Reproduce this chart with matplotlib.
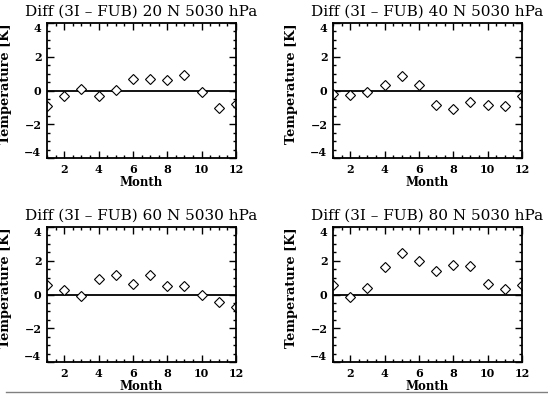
import matplotlib
matplotlib.use("Agg")
import matplotlib.pyplot as plt
from matplotlib.ticker import MultipleLocator

# monthly differences (3I - FUB) at 5030 hPa
months = [1, 2, 3, 4, 5, 6, 7, 8, 9, 10, 11, 12]
lat_labels = ["20 N", "40 N", "60 N", "80 N"]
diff_20n = [-0.90, -0.30, 0.08, -0.30, 0.02, 0.69, 0.69, 0.60, 0.90, -0.06, -1.06, -0.82]
diff_40n = [-0.20, -0.25, -0.06, 0.35, 0.84, 0.31, -0.88, -1.12, -0.70, -0.86, -0.90, -0.31]
diff_60n = [0.59, 0.29, -0.11, 0.91, 1.18, 0.63, 1.14, 0.50, 0.51, -0.04, -0.42, -0.74]
diff_80n = [0.54, -0.15, 0.37, 1.62, 2.44, 2.00, 1.40, 1.73, 1.67, 0.62, 0.33, 0.54]
all_diffs = [diff_20n, diff_40n, diff_60n, diff_80n]
yticks = [-4, -2, 0, 2, 4]
xticks = [2, 4, 6, 8, 10, 12]

plt.rcParams['font.family'] = ['DejaVu Serif']

fig = plt.figure(figsize=(5.48, 4.01), dpi=100)

# axes boxes in pixels: left, top
boxes = [(47, 23), (333, 23), (47, 227), (333, 227)]
W, H = 548.0, 401.0
aw, ah = 189, 135

for (px, py), lab, vals in zip(boxes, lat_labels, all_diffs):
    ax = fig.add_axes([px / W, 1 - (py + ah) / H, aw / W, ah / H])
    ax.plot(months, vals, linestyle='none', marker='D', markersize=4.6,
            markerfacecolor='white', markeredgecolor='black', markeredgewidth=0.8)
    ax.axhline(0, color='black', lw=1.3, zorder=1)
    ax.set_xlim(1, 12)
    ax.set_ylim(-4, 4)
    ax.set_xticks(xticks)
    ax.set_yticks(yticks)
    ax.xaxis.set_minor_locator(MultipleLocator(0.5))
    ax.yaxis.set_minor_locator(MultipleLocator(0.5))
    ax.tick_params(which='both', direction='in', top=True, right=True,
                   labelsize=8, width=1, pad=4)
    ax.tick_params(which='major', length=5)
    ax.tick_params(which='minor', length=2.5)
    for t in ax.get_xticklabels() + ax.get_yticklabels():
        t.set_fontweight('bold')
    # keep the end labels inside the box like the original
    ylabs = ax.get_yticklabels()
    ylabs[0].set_verticalalignment('bottom')
    ylabs[-1].set_verticalalignment('top')
    for s in ax.spines.values():
        s.set_linewidth(1.3)
    ax.set_title("Diff (3I – FUB) " + lab + " 5030 hPa", fontsize=11, pad=5)
    ax.set_xlabel("Month", fontsize=8.5, fontweight='bold', labelpad=1)
    ax.set_ylabel("Temperature [K]", fontsize=9.3, fontweight='bold')
    ax.yaxis.set_label_coords(-0.185, 0.55)

# thin grey rule near the bottom of the page
fig.add_artist(plt.Line2D([6 / W, 1.0], [1 - 392 / H, 1 - 392 / H],
                          color='#808080', lw=1))

fig.savefig("out.png", dpi=100)
